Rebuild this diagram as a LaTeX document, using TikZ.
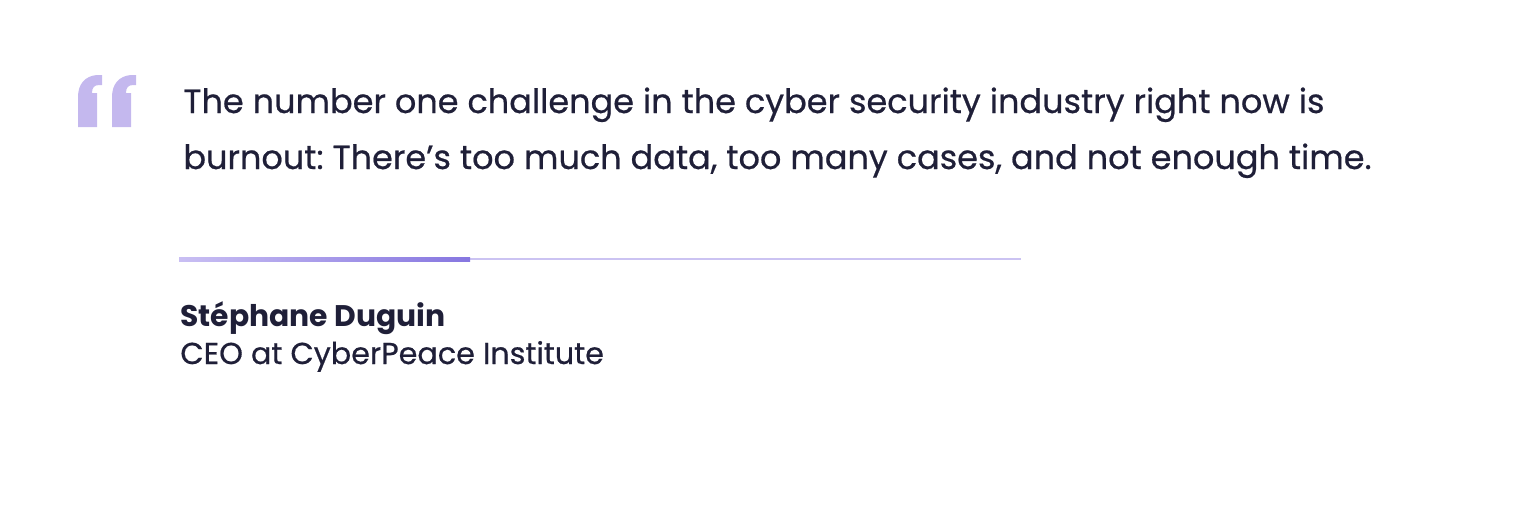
\documentclass[tikz,border=0pt]{standalone}
\usepackage{fontspec}
\setmainfont{Poppins}[Ligatures=NoCommon]
\newfontfamily\quotefont{Poppins}[Ligatures=NoCommon,FakeBold=0.6]
\frenchspacing
\definecolor{ink}{HTML}{1F1F38}
\definecolor{qmark}{HTML}{C4B8EE}
\definecolor{gradA}{HTML}{C9BFF3}
\definecolor{gradB}{HTML}{8676E0}
\definecolor{thinline}{HTML}{CBC3F2}
\tikzset{
  quotetext/.style={anchor=base west, inner sep=0pt, text=ink, font=\quotefont\fontsize{16.75}{19}\selectfont},
  persontext/.style={anchor=base west, inner sep=0pt, text=ink, font=\fontsize{14.9}{18}\selectfont\bfseries},
  roletext/.style={anchor=base west, inner sep=0pt, text=ink, font=\quotefont\fontsize{15.1}{18}\selectfont},
  qm/.style={fill=qmark, draw=none}
}
\begin{document}
\begin{tikzpicture}[x=0.5pt,y=-0.5pt]
\useasboundingbox (0,0) rectangle (1536,504);
% quotation marks
\foreach \dx in {0,34}{
  \fill[qm, xshift=\dx*0.5pt] (78,127) -- (78,97) .. controls (78,84) and (85,76) .. (97,75) -- (102,75) -- (102,85) -- (99,85) .. controls (94,85) and (92,88) .. (92,93) -- (97,93) -- (97,127) -- cycle;
}
\node[quotetext] (l1) at (183,113) {The number one challenge in the cyber security industry right now is};
\node[quotetext] (l2) at (183,169) {burnout: There’s too much data, too many cases, and not enough time.};
% divider
\fill[thinline] (470,258) rectangle (1021,260);
\shade[left color=gradA, right color=gradB] (179,257) rectangle (470,261);
\node[persontext] (nm) at (180,326) {Stéphane Duguin};
\node[roletext] (rl) at (180,364) {CEO at CyberPeace Institute};
\end{tikzpicture}
\end{document}
